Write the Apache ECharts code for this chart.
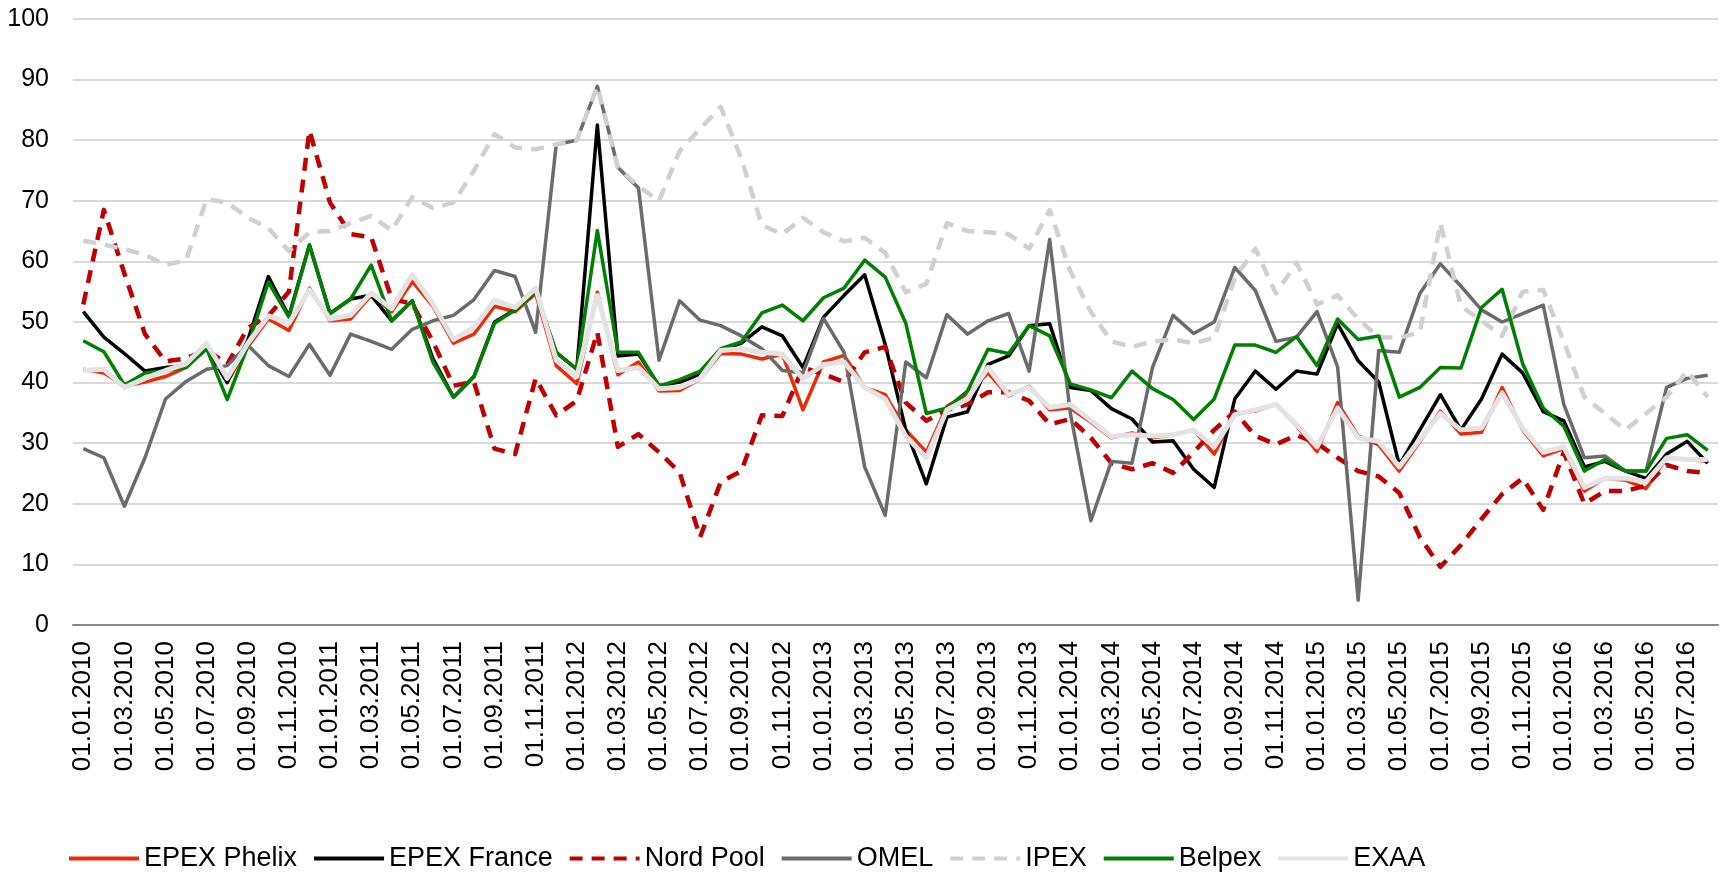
<!DOCTYPE html>
<html>
<head>
<meta charset="utf-8">
<script src="https://cdn.jsdelivr.net/npm/echarts@6/dist/echarts.min.js"></script>
<style>
  html, body { margin: 0; padding: 0; background: #fff; }
  #chart { width: 1723px; height: 873px; }
</style>
</head>
<body>
<div id="chart"></div>
<script>
// monthly categories 01.01.2010 .. 01.08.2016
var months = [];
for (var y = 2010; y <= 2016; y++) {
  for (var m = 1; m <= 12; m++) {
    if (y === 2016 && m > 8) break;
    months.push("01." + (m < 10 ? "0" + m : m) + "." + y);
  }
}

var epexPhelix = [
  42.2, 41.6, 39.4, 40.1, 41.0, 42.5, 45.9, 40.1, 45.9, 50.5,
  48.6, 55.6, 50.2, 50.5, 54.4, 51.7, 56.7, 52.6, 46.5, 48.0,
  52.6, 51.7, 54.7, 42.8, 39.8, 54.9, 41.3, 43.4, 38.6, 38.7,
  40.6, 44.8, 44.7, 43.9, 44.7, 35.5, 43.4, 44.5, 39.2, 38.0,
  32.2, 28.5, 36.1, 38.1, 41.6, 37.8, 39.4, 35.5, 35.8, 33.5,
  30.9, 31.7, 30.9, 31.4, 32.2, 28.2, 34.9, 35.3, 36.4, 32.9,
  28.6, 36.7, 31.2, 29.7, 25.4, 30.3, 35.3, 31.5, 31.8, 39.2,
  32.2, 27.9, 29.1, 22.1, 24.2, 23.9, 22.5, 27.6, 27.3, 27.0
];

var epexFrance = [
  51.7, 47.5, 44.8, 41.9, 42.5, 42.8, 45.6, 40.0, 47.0, 57.5,
  51.0, 62.7, 51.4, 53.8, 54.4, 50.2, 53.5, 44.0, 37.6, 41.0,
  50.0, 52.0, 55.0, 45.0, 42.2, 82.5, 44.4, 44.7, 39.5, 40.1,
  41.3, 45.3, 46.5, 49.2, 47.7, 42.5, 50.8, 54.4, 57.8, 46.3,
  32.2, 23.3, 34.3, 35.2, 43.0, 44.4, 49.4, 49.7, 39.2, 38.7,
  35.7, 34.0, 30.2, 30.4, 25.7, 22.7, 37.3, 41.9, 38.9, 41.9,
  41.4, 49.7, 43.6, 40.1, 26.4, 32.2, 38.0, 32.2, 37.3, 44.7,
  41.6, 35.2, 33.7, 26.1, 27.0, 25.4, 24.2, 28.2, 30.3, 26.7
];

var nordPool = [
  52.9, 68.5, 58.0, 48.0, 43.5, 44.0, 45.5, 43.0, 49.0, 51.0,
  55.0, 81.6, 69.7, 64.5, 64.0, 53.8, 53.0, 46.8, 39.5, 40.1,
  29.1, 28.2, 40.7, 34.6, 37.0, 48.3, 29.4, 31.5, 28.5, 25.2,
  14.5, 23.6, 25.4, 34.6, 34.5, 42.5, 41.4, 40.1, 45.0, 45.9,
  36.7, 33.7, 35.5, 36.4, 38.4, 38.4, 37.0, 33.1, 34.0, 30.9,
  26.7, 25.7, 26.7, 25.1, 28.5, 32.2, 35.2, 31.2, 29.8, 31.3,
  30.0, 27.6, 25.4, 24.5, 21.8, 14.5, 9.6, 13.2, 17.5, 21.6,
  24.2, 19.0, 28.5, 20.0, 22.1, 22.1, 23.0, 26.4, 25.4, 25.1
];

var omel = [
  29.1, 27.6, 19.6, 27.6, 37.3, 40.2, 42.2, 42.8, 46.2, 42.8,
  41.0, 46.3, 41.2, 48.0, 46.8, 45.5, 48.8, 50.2, 51.1, 53.7,
  58.5, 57.5, 48.3, 79.3, 80.0, 88.9, 75.5, 72.1, 43.7, 53.5,
  50.3, 49.4, 47.7, 45.6, 42.0, 41.6, 50.6, 45.0, 26.1, 18.1,
  43.4, 40.8, 51.2, 48.0, 50.2, 51.4, 41.9, 63.6, 35.0, 17.2,
  27.0, 26.7, 42.5, 51.1, 48.1, 50.0, 59.0, 55.2, 46.8, 47.5,
  51.7, 42.6, 4.1, 45.3, 45.0, 54.7, 59.6, 55.9, 52.0, 50.0,
  51.4, 52.8, 36.4, 27.6, 27.9, 25.4, 25.4, 39.2, 40.7, 41.2
];

var ipex = [
  63.4, 62.8, 62.0, 61.1, 59.4, 60.2, 70.3, 69.7, 67.2, 65.5,
  61.7, 64.8, 65.0, 66.3, 67.5, 65.1, 70.6, 68.8, 69.7, 75.0,
  81.0, 78.8, 78.5, 79.3, 80.0, 88.9, 75.5, 72.4, 70.0, 78.2,
  81.9, 85.5, 77.0, 66.0, 64.5, 67.2, 64.8, 63.3, 63.9, 61.4,
  54.9, 56.3, 66.3, 65.0, 64.8, 64.5, 62.1, 68.5, 58.4, 51.7,
  46.8, 45.9, 46.8, 47.1, 46.5, 47.4, 57.2, 62.1, 54.7, 59.8,
  52.9, 54.4, 50.5, 47.5, 47.4, 48.3, 66.3, 52.6, 50.2, 47.7,
  55.0, 55.3, 46.8, 37.6, 34.9, 32.2, 34.9, 37.6, 41.9, 37.6
];

var belpex = [
  46.9, 45.1, 39.6, 41.6, 42.0, 42.5, 45.6, 37.2, 46.0, 56.6,
  50.8, 62.7, 51.4, 53.8, 59.4, 50.2, 53.5, 43.4, 37.6, 41.0,
  49.8, 52.0, 55.0, 45.0, 42.2, 65.1, 45.0, 45.0, 39.4, 40.5,
  41.9, 45.6, 46.7, 51.5, 52.8, 50.2, 54.0, 55.6, 60.2, 57.4,
  49.8, 34.9, 35.8, 38.6, 45.5, 44.8, 49.4, 47.7, 39.8, 38.8,
  37.5, 41.9, 39.0, 37.2, 33.9, 37.3, 46.2, 46.2, 45.0, 47.6,
  42.8, 50.5, 47.1, 47.7, 37.6, 39.2, 42.5, 42.4, 52.4, 55.4,
  43.1, 35.8, 32.8, 25.4, 27.3, 25.4, 25.4, 30.8, 31.4, 28.8
];

var exaa = [
  42.0, 42.2, 39.2, 40.7, 42.0, 43.1, 46.5, 40.7, 46.5, 51.0,
  49.8, 55.3, 50.5, 51.1, 54.8, 52.2, 57.8, 53.0, 47.1, 49.1,
  53.6, 52.4, 55.6, 43.7, 41.0, 54.4, 42.0, 42.5, 39.0, 39.2,
  40.7, 45.3, 45.6, 45.0, 44.7, 40.6, 43.0, 43.4, 39.2, 37.3,
  31.2, 27.6, 35.5, 37.3, 42.5, 38.0, 39.2, 35.9, 36.4, 33.8,
  31.1, 31.4, 31.2, 31.4, 32.2, 29.4, 34.7, 35.5, 36.4, 33.1,
  29.4, 35.8, 30.9, 30.3, 26.1, 30.6, 34.9, 32.2, 32.5, 38.3,
  32.5, 28.5, 29.4, 22.7, 24.2, 24.2, 23.6, 27.6, 27.3, 27.3
];

var seriesList = [
  { name: "EPEX Phelix", data: epexPhelix, color: "#f02808", width: 3.5, dash: "solid" },
  { name: "EPEX France", data: epexFrance, color: "#000000", width: 3.5, dash: "solid" },
  { name: "Nord Pool", data: nordPool, color: "#c00000", width: 4.5, dash: [13, 9] },
  { name: "OMEL", data: omel, color: "#6b6b6b", width: 3.5, dash: "solid" },
  { name: "IPEX", data: ipex, color: "#d0d0d0", width: 4.5, dash: [13, 9] },
  { name: "Belpex", data: belpex, color: "#008000", width: 3.5, dash: "solid" },
  { name: "EXAA", data: exaa, color: "#e3e3e3", width: 5, dash: "solid" }
];

var font = "Liberation Sans, Arial, sans-serif";
var chart = echarts.init(document.getElementById("chart"));

var option = {
  animation: false,
  backgroundColor: "#fff",
  grid: { left: 73, right: 5, top: 19, bottom: 248 },
  legend: {
    left: 67,
    top: 845,
    padding: 0,
    itemWidth: 70,
    itemHeight: 26,
    itemGap: 15,
    itemStyle: { opacity: 0 },
    lineStyle: { width: 4 },
    textStyle: { fontFamily: font, fontSize: 27, color: "#000" },
    data: seriesList.map(function (s) { return s.name; })
  },
  xAxis: {
    type: "category",
    boundaryGap: true,
    data: months,
    axisLine: { lineStyle: { color: "#898989", width: 2 } },
    axisTick: { interval: 1, length: 8, lineStyle: { color: "#898989", width: 2 } },
    axisLabel: {
      interval: 1,
      rotate: 90,
      margin: 16,
      fontFamily: font,
      fontSize: 26,
      color: "#000"
    },
    splitLine: { show: false }
  },
  yAxis: {
    type: "value",
    min: 0,
    max: 100,
    interval: 10,
    axisLine: { show: false },
    axisTick: { show: false },
    axisLabel: { margin: 24, fontFamily: font, fontSize: 25, color: "#000" },
    splitLine: { lineStyle: { color: "#d9d9d9", width: 2 } }
  },
  series: seriesList.map(function (s) {
    return {
      name: s.name,
      type: "line",
      data: s.data,
      symbol: "none",
      color: s.color,
      lineStyle: { color: s.color, width: s.width, type: s.dash, cap: "butt", join: "round" }
    };
  })
};

chart.setOption(option);
</script>
</body>
</html>
